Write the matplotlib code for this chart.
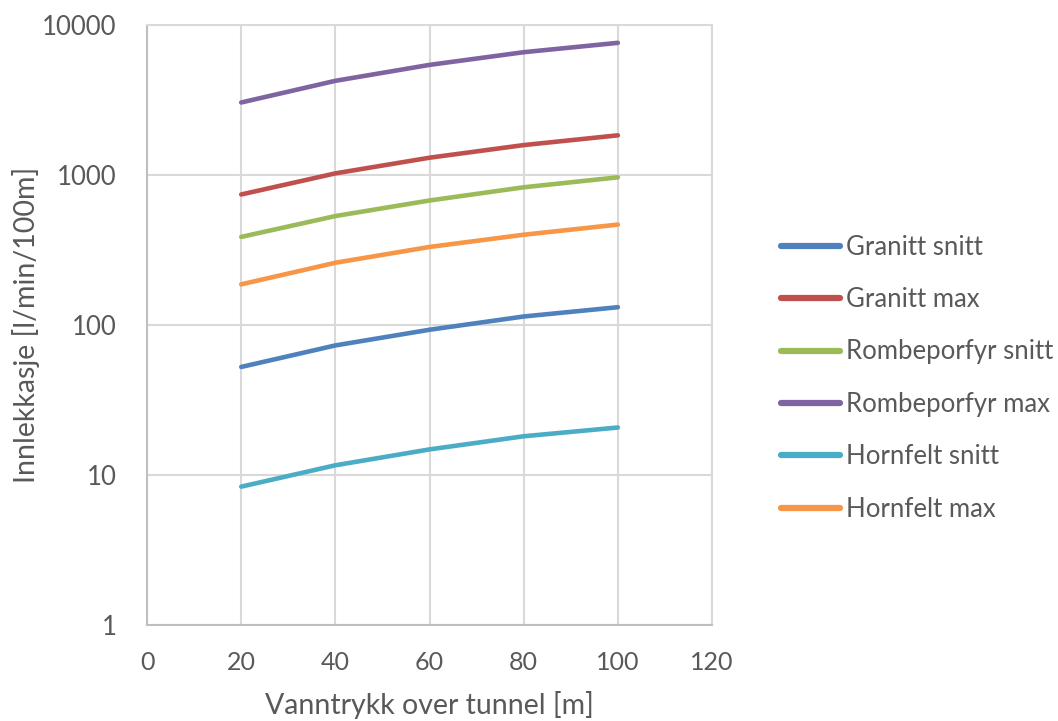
import matplotlib
matplotlib.use("Agg")
import matplotlib.pyplot as plt
from matplotlib.ticker import FixedLocator, FixedFormatter, NullLocator

plt.rcParams['font.family'] = ['Lato', 'DejaVu Sans']

# Water pressure above tunnel [m]
pressure = [20, 40, 60, 80, 100]

# Inflow [l/min/100m] per rock type
granitt_snitt = [52.4, 72.9, 92.7, 113.6, 131]
granitt_max = [738, 1020, 1297, 1574, 1828]
rombeporfyr_snitt = [385, 530, 673, 824, 960]
rombeporfyr_max = [3025, 4217, 5385, 6540, 7550]
hornfelt_snitt = [8.36, 11.6, 14.8, 18.1, 20.7]
hornfelt_max = [186, 259, 330, 398, 465]

series_names = ["Granitt snitt", "Granitt max", "Rombeporfyr snitt",
                "Rombeporfyr max", "Hornfelt snitt", "Hornfelt max"]
series_values = [granitt_snitt, granitt_max, rombeporfyr_snitt,
                 rombeporfyr_max, hornfelt_snitt, hornfelt_max]
series_colors = ["#4F81BD", "#C0504D", "#9BBB59", "#8064A2", "#4BACC6", "#F79646"]

x_ticks = [0, 20, 40, 60, 80, 100, 120]
y_ticks = [1, 10, 100, 1000, 10000]
y_tick_labels = ["1", "10", "100", "1000", "10000"]

fig = plt.figure(figsize=(10.58, 7.21), dpi=100)
ax = fig.add_axes([0.139, 0.133, 0.534, 0.833])

for name, vals, col in zip(series_names, series_values, series_colors):
    ax.plot(pressure, vals, color=col, lw=3.3, label=name,
            solid_capstyle='round', solid_joinstyle='round', zorder=3)

ax.set_yscale('log')
ax.set_ylim(1, 10000)
ax.set_xlim(0, 120)
ax.xaxis.set_major_locator(FixedLocator(x_ticks))
ax.yaxis.set_major_locator(FixedLocator(y_ticks))
ax.yaxis.set_major_formatter(FixedFormatter(y_tick_labels))
ax.yaxis.set_minor_locator(NullLocator())

ax.grid(True, color="#D9D9D9", lw=1.5, zorder=0)
for side in ['top', 'right']:
    ax.spines[side].set_color("#D9D9D9")
    ax.spines[side].set_linewidth(1.5)
for side in ['left', 'bottom']:
    ax.spines[side].set_color("#BFBFBF")
    ax.spines[side].set_linewidth(1.5)

ax.tick_params(axis='x', length=0, labelsize=18, colors="#595959", pad=19)
ax.tick_params(axis='y', length=0, labelsize=18.5, colors="#595959", pad=22)
ax.set_xlabel("Vanntrykk over tunnel [m]", fontsize=20.5, color="#595959", labelpad=12)
ax.set_ylabel("Innlekkasje [l/min/100m]", fontsize=20.5, color="#595959")
ax.yaxis.set_label_coords(-0.19, 0.5)

leg = fig.legend(loc='upper left', bbox_to_anchor=(0.728, 0.689), frameon=False,
                 fontsize=18.5, handlelength=2.3, handletextpad=0.25,
                 labelspacing=1.07, borderaxespad=0)
for line in leg.get_lines():
    line.set_linewidth(4.5)
for t in leg.get_texts():
    t.set_color("#595959")

fig.savefig("out.png", dpi=100)
